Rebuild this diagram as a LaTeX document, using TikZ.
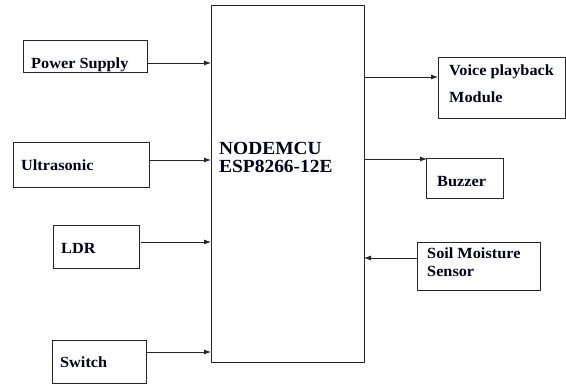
\documentclass[tikz,border=0pt]{standalone}
\usepackage{fontspec}
\setmainfont{Liberation Serif}[FakeStretch=1.05]
\usetikzlibrary{arrows.meta}
\begin{document}
\begin{tikzpicture}[x=1pt,y=-1pt,
  box/.style={draw=black!85, line width=0.8pt, inner sep=0pt, outer sep=0pt, anchor=north west},
  lbl/.style={anchor=base west, inner sep=0pt, font=\bfseries\fontsize{15.5}{18}\selectfont, text=black!90!blue},
  big/.style={anchor=base west, inner sep=0pt, font=\bfseries\fontsize{18.5}{22}\selectfont, text=black!90!blue},
  arr/.style={draw=black!85, line width=0.8pt, -{Latex[length=7pt,width=5pt]}}]
\useasboundingbox (0,0) rectangle (566,385);
% main block
\node[box, minimum width=153pt, minimum height=357pt] (main) at (211,5) {};
\node[big] (m1) at (219,155) {NODEMCU};
\node[big] (m2) at (219,173) {ESP8266-12E};
% inputs
\node[box, minimum width=124pt, minimum height=32pt] (ps) at (23,40) {};
\node[lbl] (psl) at (31,69) {Power Supply};
\node[box, minimum width=136pt, minimum height=45pt] (us) at (13,142) {};
\node[lbl] (usl) at (21,171) {Ultrasonic};
\node[box, minimum width=86pt, minimum height=43pt] (ldr) at (53,225) {};
\node[lbl] (ldrl) at (61,254) {LDR};
\node[box, minimum width=94pt, minimum height=43pt] (sw) at (52,340) {};
\node[lbl] (swl) at (60,368) {Switch};
% outputs
\node[box, minimum width=127pt, minimum height=61pt] (vp) at (438,57) {};
\node[lbl] (vpl1) at (449,76) {Voice playback};
\node[lbl] (vpl2) at (449,103) {Module};
\node[box, minimum width=77pt, minimum height=40pt] (bz) at (426,158) {};
\node[lbl] (bzl) at (437,187) {Buzzer};
\node[box, minimum width=123pt, minimum height=48pt] (sm) at (417,242) {};
\node[lbl] (sml1) at (427,259) {Soil Moisture};
\node[lbl] (sml2) at (427,277) {Sensor};
% connectors
\draw[arr] (ps.east |- 0,63) -- (main.west |- 0,63);
\draw[arr] (us.east |- 0,160) -- (main.west |- 0,160);
\draw[arr] ([xshift=2pt]ldr.east |- 0,242) -- (main.west |- 0,242);
\draw[arr] (sw.east |- 0,352) -- (main.west |- 0,352);
\draw[arr] (main.east |- 0,77) -- (vp.west |- 0,77);
\draw[arr] (main.east |- 0,159) -- ([xshift=1pt]bz.west |- 0,159);
\draw[arr] (sm.west |- 0,258) -- (main.east |- 0,258);
\end{tikzpicture}
\end{document}
